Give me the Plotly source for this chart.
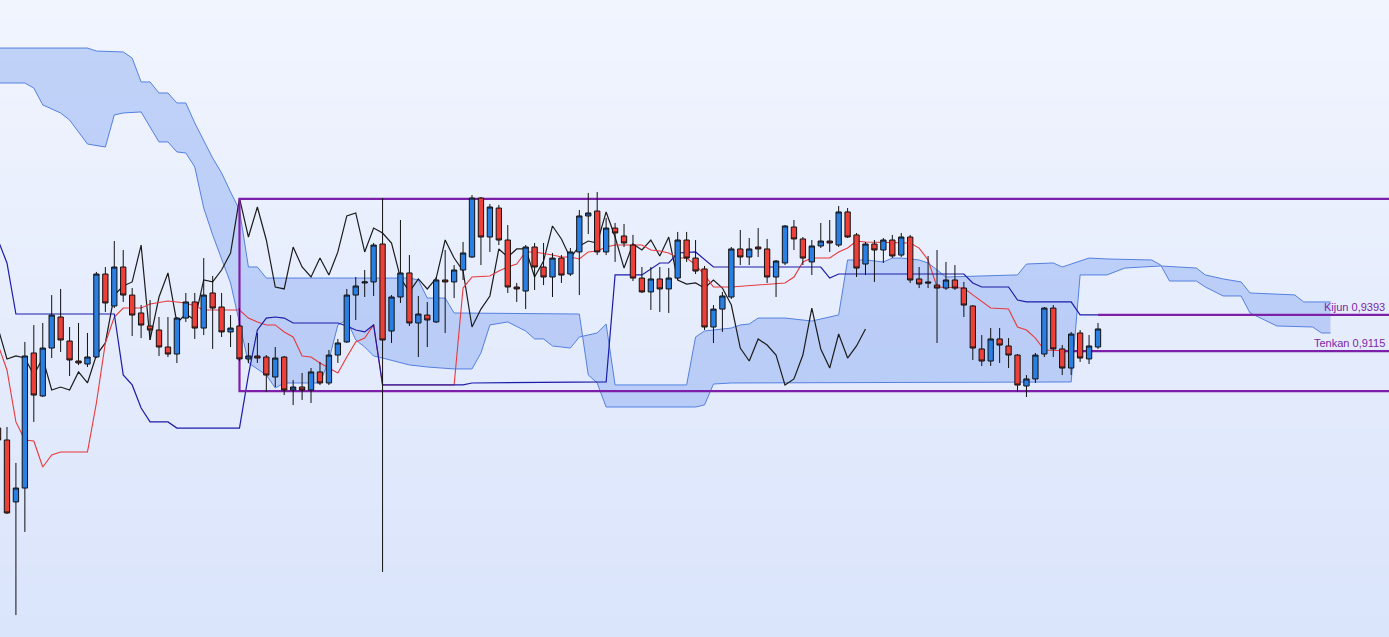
import plotly.graph_objects as go

# bougies (index -1 a 122)
candle_idx = list(range(-1, 123))
candle_open = [0.8522, 0.8430, 0.7953, 0.8060, 0.9100, 0.8769, 0.9138, 0.9377, 0.9192, 0.9038,
               0.9015, 0.9069, 0.9708, 0.9462, 0.9762, 0.9546, 0.9408, 0.9308, 0.9277, 0.9146,
               0.9092, 0.9369, 0.9493, 0.9292, 0.9562, 0.9454, 0.9262, 0.9308, 0.9054, 0.9077,
               0.9069, 0.8915, 0.9069, 0.8815, 0.8838, 0.8815, 0.8954, 0.8869, 0.9084, 0.9185,
               0.9546, 0.9639, 0.9647, 0.9939, 0.9269, 0.9531, 0.9716, 0.9331, 0.9392, 0.9339,
               0.9662, 0.9647, 0.9739, 0.9839, 1.0293, 0.9993, 1.0216, 0.9970, 0.9608, 0.9577,
               0.9916, 0.9762, 0.9685, 0.9831, 0.9708, 0.9878, 1.0155, 1.0193, 0.9878, 1.0062,
               1.0001, 0.9931, 0.9677, 0.9570, 0.9670, 0.9593, 0.9677, 0.9970, 0.9831, 0.9747,
               0.9300, 0.9438, 0.9531, 0.9901, 0.9839, 0.9916, 0.9901, 0.9685, 0.9793, 1.0070,
               0.9978, 0.9801, 0.9924, 0.9962, 0.9931, 1.0186, 1.0009, 0.9785, 0.9939, 0.9893,
               0.9970, 0.9854, 0.9993, 0.9670, 0.9647, 0.9623, 0.9600, 0.9662, 0.9600, 0.9462,
               0.9131, 0.9038, 0.9208, 0.9154, 0.9084, 0.8846, 0.8900, 0.9092, 0.9446, 0.9131,
               0.8984, 0.9254, 0.9054, 0.9146]
candle_high = [0.8545, 0.8530, 0.8253, 0.9185, 0.9315, 0.9331, 0.9546, 0.9593, 0.9300, 0.9331,
               0.9254, 0.9724, 0.9762, 0.9962, 0.9893, 0.9600, 0.9469, 0.9508, 0.9377, 0.9377,
               0.9377, 0.9562, 0.9562, 0.9831, 0.9693, 0.9562, 0.9392, 0.9446, 0.9177, 0.9254,
               0.9084, 0.9146, 0.9077, 0.8892, 0.8946, 0.8984, 0.9031, 0.9123, 0.9208, 0.9593,
               0.9685, 0.9739, 0.9947, 1.0293, 0.9546, 1.0124, 0.9854, 0.9539, 0.9493, 0.9685,
               0.9893, 0.9777, 0.9955, 1.0316, 1.0301, 1.0247, 1.0240, 1.0085, 0.9639, 0.9931,
               0.9947, 0.9947, 0.9870, 0.9854, 0.9908, 1.0201, 1.0332, 1.0340, 1.0140, 1.0101,
               1.0093, 1.0009, 0.9762, 0.9762, 0.9762, 0.9754, 1.0032, 1.0032, 0.9970, 0.9770,
               0.9469, 0.9570, 0.9916, 1.0047, 0.9985, 1.0062, 0.9978, 0.9816, 1.0085, 1.0124,
               0.9993, 0.9970, 1.0101, 1.0124, 1.0232, 1.0216, 1.0024, 0.9955, 0.9970, 0.9985,
               1.0009, 1.0024, 1.0009, 0.9762, 0.9847, 0.9893, 0.9801, 0.9777, 0.9647, 0.9469,
               0.9238, 0.9292, 0.9292, 0.9215, 0.9092, 0.8930, 0.9100, 0.9454, 0.9469, 0.9161,
               0.9262, 0.9277, 0.9238, 0.9331]
candle_low = [0.8391, 0.7860, 0.7082, 0.7722, 0.8569, 0.8761, 0.9061, 0.9108, 0.8923, 0.9007,
              0.8992, 0.9061, 0.9416, 0.9446, 0.9493, 0.9231, 0.9215, 0.9200, 0.9077, 0.9069,
              0.9023, 0.9339, 0.9208, 0.9238, 0.9131, 0.9223, 0.9146, 0.9038, 0.9023, 0.9023,
              0.8800, 0.8838, 0.8776, 0.8699, 0.8738, 0.8715, 0.8853, 0.8853, 0.9023, 0.9177,
              0.9354, 0.9531, 0.9539, 0.7414, 0.9177, 0.9485, 0.9308, 0.9069, 0.9146, 0.9331,
              0.9254, 0.9523, 0.9662, 0.9831, 0.9777, 0.9878, 0.9931, 0.9562, 0.9493, 0.9438,
              0.9585, 0.9623, 0.9531, 0.9639, 0.9693, 0.9546, 1.0016, 0.9854, 0.9854, 0.9801,
              0.9916, 0.9654, 0.9562, 0.9431, 0.9416, 0.9408, 0.9662, 0.9801, 0.9708, 0.9277,
              0.9177, 0.9262, 0.9516, 0.9777, 0.9777, 0.9839, 0.9639, 0.9531, 0.9777, 0.9893,
              0.9777, 0.9700, 0.9908, 0.9878, 0.9916, 0.9985, 0.9685, 0.9700, 0.9647, 0.9793,
              0.9831, 0.9839, 0.9639, 0.9600, 0.9600, 0.9177, 0.9585, 0.9585, 0.9377, 0.9046,
              0.9000, 0.9000, 0.9023, 0.8984, 0.8800, 0.8761, 0.8869, 0.9069, 0.9069, 0.8930,
              0.8930, 0.9031, 0.9015, 0.9131]
candle_close = [0.8430, 0.7868, 0.8060, 0.9077, 0.8776, 0.9138, 0.9392, 0.9200, 0.9046, 0.9023,
                0.9069, 0.9708, 0.9485, 0.9762, 0.9546, 0.9392, 0.9315, 0.9277, 0.9146, 0.9092,
                0.9369, 0.9493, 0.9292, 0.9546, 0.9446, 0.9262, 0.9292, 0.9054, 0.9077, 0.9061,
                0.8930, 0.9061, 0.8815, 0.8838, 0.8815, 0.8954, 0.8869, 0.9084, 0.9177, 0.9546,
                0.9616, 0.9647, 0.9931, 0.9200, 0.9531, 0.9716, 0.9331, 0.9400, 0.9354, 0.9662,
                0.9647, 0.9739, 0.9870, 1.0293, 0.9993, 1.0224, 0.9970, 0.9608, 0.9593, 0.9916,
                0.9762, 0.9685, 0.9831, 0.9700, 0.9878, 1.0155, 1.0178, 0.9878, 1.0062, 1.0024,
                0.9947, 0.9677, 0.9570, 0.9670, 0.9593, 0.9677, 0.9970, 0.9831, 0.9731, 0.9300,
                0.9438, 0.9539, 0.9901, 0.9839, 0.9901, 0.9901, 0.9685, 0.9808, 1.0078, 0.9978,
                0.9831, 0.9924, 0.9962, 0.9947, 1.0186, 0.9993, 0.9754, 0.9939, 0.9893, 0.9970,
                0.9847, 0.9993, 0.9662, 0.9631, 0.9639, 0.9600, 0.9662, 0.9600, 0.9469, 0.9138,
                0.9038, 0.9208, 0.9161, 0.9084, 0.8853, 0.8900, 0.9084, 0.9446, 0.9131, 0.8984,
                0.9246, 0.9061, 0.9154, 0.9285]

# Tenkan (rouge)
tenkan_x = [-1, 0, 1, 2, 3, 4, 5, 6, 9, 10, 11, 12, 13, 15, 16, 18, 20, 21, 22, 26, 27, 28, 29, 30,
            31, 32, 33, 34, 35, 36, 37, 38, 39, 40, 41, 42, 50, 51, 52, 54, 55, 56, 57, 58, 59, 61,
            62, 63, 64, 65, 66, 67, 68, 71, 72, 73, 74, 75, 76, 77, 78, 79, 81, 87, 88, 89, 90, 92,
            93, 94, 95, 96, 101, 102, 103, 104, 107, 108, 110, 112, 113, 114, 115, 116, 119, 122]
tenkan_y = [0.9162, 0.8969, 0.8569, 0.8430, 0.8422, 0.8222, 0.8315, 0.8338, 0.8338, 0.8715, 0.9177,
            0.9377, 0.9446, 0.9446, 0.9477, 0.9500, 0.9485, 0.9462, 0.9431, 0.9431, 0.9369, 0.9339,
            0.9316, 0.9316, 0.9262, 0.9223, 0.9077, 0.9069, 0.9023, 0.8984, 0.8946, 0.9069, 0.9185,
            0.9215, 0.9316, 0.8854, 0.8854, 0.9600, 0.9685, 0.9693, 0.9731, 0.9762, 0.9785, 0.9878,
            0.9878, 0.9855, 0.9839, 0.9839, 0.9824, 0.9878, 0.9885, 0.9916, 0.9932, 0.9932, 0.9893,
            0.9885, 0.9870, 0.9831, 0.9831, 0.9778, 0.9701, 0.9608, 0.9608, 0.9639, 0.9685, 0.9801,
            0.9831, 0.9831, 0.9878, 0.9908, 0.9962, 0.9955, 0.9947, 0.9908, 0.9816, 0.9608, 0.9600,
            0.9547, 0.9446, 0.9439, 0.9300, 0.9277, 0.9215, 0.9123, 0.9115, 0.9115]

# Kijun (bleu fonce)
kijun_x = [-1, 0, 1, 12, 13, 14, 15, 16, 18, 19, 26, 27, 28, 29, 30, 31, 32, 37, 38, 39, 40, 41,
           42, 51, 52, 67, 68, 71, 73, 74, 75, 77, 79, 91, 92, 93, 107, 108, 109, 112, 113, 114,
           119, 120, 122]
kijun_y = [0.9970, 0.9793, 0.9400, 0.9400, 0.8931, 0.8854, 0.8676, 0.8569, 0.8569, 0.8522, 0.8522,
           0.8931, 0.9277, 0.9369, 0.9377, 0.9369, 0.9331, 0.9331, 0.9308, 0.9277, 0.9262, 0.9316,
           0.8854, 0.8854, 0.8869, 0.8877, 0.9701, 0.9701, 0.9793, 0.9793, 0.9870, 0.9878, 0.9762,
           0.9762, 0.9677, 0.9708, 0.9708, 0.9639, 0.9608, 0.9608, 0.9508, 0.9493, 0.9493, 0.9393,
           0.9393]

# nuage : Senkou A et Senkou B (decales de 26 periodes)
span_a_x = [-1, 9, 10, 13, 14, 15, 16, 17, 18, 19, 20, 21, 23, 24, 25, 26, 27, 28, 29, 45, 46, 47,
            49, 50, 64, 65, 66, 67, 77, 78, 79, 81, 119, 120, 123, 125, 127, 129, 133, 134, 136,
            138, 139, 144, 145, 148]
span_a_y = [1.1448, 1.1448, 1.1425, 1.1418, 1.1371, 1.1187, 1.1187, 1.1102, 1.1102, 1.1025, 1.1025,
            1.0871, 1.0601, 1.0486, 1.0340, 1.0201, 0.9762, 0.9762, 0.9677, 0.9677, 0.9662, 0.9523,
            0.9523, 0.9408, 0.9400, 0.8931, 0.8869, 0.8684, 0.8684, 0.8700, 0.8861, 0.8869, 0.8877,
            0.9701, 0.9701, 0.9754, 0.9762, 0.9770, 0.9754, 0.9701, 0.9670, 0.9647, 0.9562, 0.9547,
            0.9493, 0.9493]
span_b_x = [-1, 2, 3, 4, 6, 7, 8, 9, 11, 12, 13, 15, 16, 17, 18, 19, 20, 21, 22, 23, 25, 27, 29,
            30, 31, 35, 36, 37, 38, 39, 40, 41, 42, 45, 47, 50, 52, 53, 54, 56, 58, 59, 60, 61, 62,
            63, 64, 66, 67, 68, 76, 77, 78, 81, 82, 83, 84, 87, 90, 92, 93, 94, 96, 98, 99, 100,
            102, 103, 105, 113, 114, 117, 118, 119, 121, 123, 128, 129, 130, 133, 134, 136, 138,
            139, 142, 146, 147, 148]
span_b_y = [1.1179, 1.1179, 1.1140, 1.1010, 1.0948, 1.0894, 1.0802, 1.0709, 1.0686, 1.0933, 1.0948,
            1.0956, 1.0840, 1.0725, 1.0725, 1.0648, 1.0640, 1.0532, 1.0216, 1.0009, 0.9639, 0.9023,
            0.8931, 0.8830, 0.8869, 0.8869, 0.9046, 0.9316, 0.9354, 0.9200, 0.9146, 0.9077, 0.9061,
            0.9008, 0.8992, 0.8977, 0.8977, 0.9100, 0.9316, 0.9339, 0.9269, 0.9208, 0.9208, 0.9154,
            0.9146, 0.9138, 0.9223, 0.9254, 0.9323, 0.8854, 0.8854, 0.9223, 0.9269, 0.9292, 0.9316,
            0.9323, 0.9369, 0.9369, 0.9346, 0.9377, 0.9393, 0.9816, 0.9816, 0.9801, 0.9831, 0.9831,
            0.9816, 0.9793, 0.9685, 0.9701, 0.9785, 0.9793, 0.9762, 0.9785, 0.9831, 0.9824, 0.9816,
            0.9778, 0.9654, 0.9654, 0.9608, 0.9539, 0.9539, 0.9408, 0.9308, 0.9300, 0.9254, 0.9254]

# zone de range et niveaux
box_start = 26
box_top = 1.0286
box_bottom = 0.8807
kijun_level = 0.9393
kijun_start = 122
tenkan_level = 0.9115
tenkan_start = 118

PURPLE = "#7d1fa8"
X_RANGE = [-0.78, 154.54]
Y_RANGE = [0.6913, 1.1818]
FAR_RIGHT = 170  # au-dela du bord droit, la ligne est coupee par l'axe


def build_chart():
    fig = go.Figure()

    # Chikou = cloture decalee de 26 periodes en arriere
    chikou_x = [i - 26 for i in candle_idx[25:]]
    chikou_y = candle_close[25:]

    fig.add_trace(go.Scatter(x=span_a_x, y=span_a_y, mode="lines",
                             line=dict(color="#5580e0", width=1)))
    fig.add_trace(go.Scatter(x=span_b_x, y=span_b_y, mode="lines",
                             line=dict(color="#5580e0", width=1),
                             fill="tonexty", fillcolor="rgba(135,168,242,0.45)"))
    fig.add_trace(go.Scatter(x=chikou_x, y=chikou_y, mode="lines",
                             line=dict(color="#1c1c1c", width=1.2)))
    fig.add_trace(go.Scatter(x=tenkan_x, y=tenkan_y, mode="lines",
                             line=dict(color="#e8393c", width=1.1)))
    fig.add_trace(go.Scatter(x=kijun_x, y=kijun_y, mode="lines",
                             line=dict(color="#1c1ca8", width=1.2)))

    # zone de range + niveaux Kijun / Tenkan (sous les bougies)
    fig.add_trace(go.Scatter(x=[FAR_RIGHT, box_start, box_start, FAR_RIGHT],
                             y=[box_top, box_top, box_bottom, box_bottom], mode="lines",
                             line=dict(color=PURPLE, width=2.2)))
    fig.add_trace(go.Scatter(x=[kijun_start, FAR_RIGHT], y=[kijun_level, kijun_level],
                             mode="lines", line=dict(color=PURPLE, width=2.2)))
    fig.add_trace(go.Scatter(x=[tenkan_start, FAR_RIGHT], y=[tenkan_level, tenkan_level],
                             mode="lines", line=dict(color=PURPLE, width=2.2)))

    # les bougies sur des axes superposes pour passer au-dessus du nuage
    fig.add_trace(go.Candlestick(
        x=candle_idx, open=candle_open, high=candle_high, low=candle_low, close=candle_close,
        increasing=dict(line=dict(color="#111111", width=1), fillcolor="#2a7fe3"),
        decreasing=dict(line=dict(color="#111111", width=1), fillcolor="#ec4038"),
        whiskerwidth=0, xaxis="x2", yaxis="y2",
    ))

    # fond degrade
    shapes = []
    n = 64
    top = (241, 245, 254)
    bottom = (218, 228, 251)
    for k in range(n):
        t = k / (n - 1)
        c = tuple(round(top[j] + (bottom[j] - top[j]) * t) for j in range(3))
        shapes.append(dict(type="rect", xref="paper", yref="paper", x0=0, x1=1,
                           y0=1 - (k + 1) / n, y1=1 - k / n + 0.002, layer="below",
                           line=dict(width=0), fillcolor="rgb(%d,%d,%d)" % c))

    fig.update_layout(
        width=1389, height=637,
        margin=dict(l=0, r=0, t=0, b=0),
        showlegend=False,
        paper_bgcolor="rgb(241,245,254)",
        plot_bgcolor="rgba(0,0,0,0)",
        shapes=shapes,
        boxgap=0.15,
        xaxis=dict(range=X_RANGE, visible=False, showgrid=False, zeroline=False),
        yaxis=dict(range=Y_RANGE, visible=False, showgrid=False, zeroline=False),
        xaxis2=dict(range=X_RANGE, visible=False, overlaying="x", showgrid=False,
                    zeroline=False, rangeslider=dict(visible=False)),
        yaxis2=dict(range=Y_RANGE, visible=False, overlaying="y", showgrid=False,
                    zeroline=False),
        annotations=[
            dict(x=1, xref="paper", y=kijun_level, yref="y", xanchor="right", yanchor="bottom",
                 text="Kijun 0,9393", showarrow=False, xshift=-2,
                 font=dict(family="Liberation Sans", size=11, color=PURPLE)),
            dict(x=1, xref="paper", y=tenkan_level, yref="y", xanchor="right", yanchor="bottom",
                 text="Tenkan 0,9115", showarrow=False, xshift=-2,
                 font=dict(family="Liberation Sans", size=11, color=PURPLE)),
        ],
    )

    fig.write_html("out.html", config={"displayModeBar": False})

    # pas de marge blanche autour du graphique dans la page
    with open("out.html", encoding="utf-8") as f:
        html = f.read()
    html = html.replace("<head>", "<head><style>html,body{margin:0;padding:0;overflow:hidden;}</style>", 1)
    with open("out.html", "w", encoding="utf-8") as f:
        f.write(html)


if __name__ == "__main__":
    build_chart()
